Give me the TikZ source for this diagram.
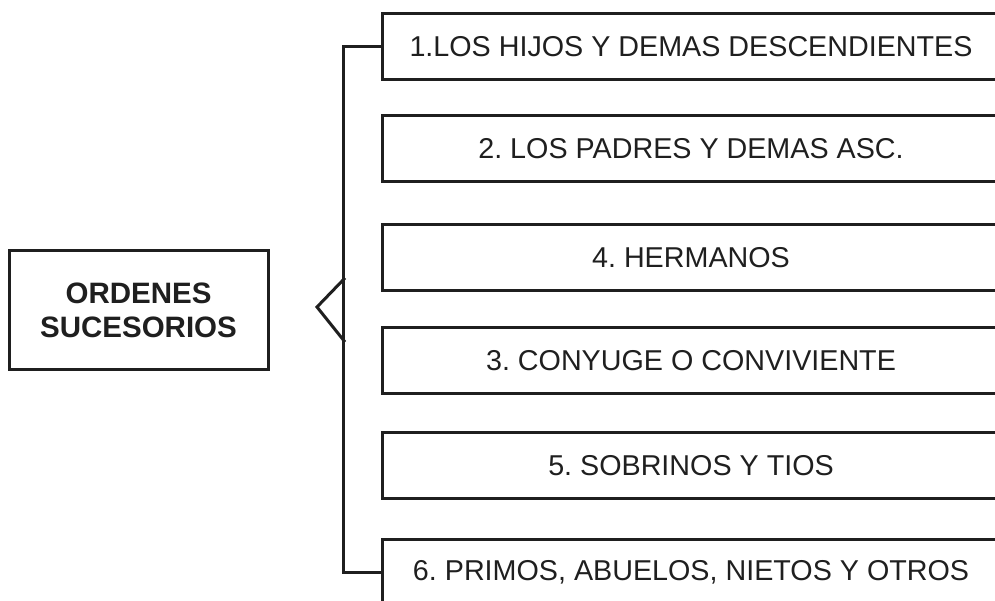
\documentclass[tikz,border=0pt]{standalone}
\usepackage{fontspec}
\setmainfont{Liberation Sans}
\frenchspacing
\tikzset{
  caja/.style={draw, line width=3pt, minimum width=618pt, minimum height=66pt, inner sep=0pt,
    font=\fontsize{28.7}{34}\selectfont},
  titulo/.style={draw, line width=3pt, minimum width=259pt, minimum height=118pt, align=center,
    font=\fontsize{29.5}{34}\selectfont\bfseries},
  llave/.style={line width=3pt}
}
\begin{document}
\begin{tikzpicture}[x=1pt,y=-1pt,color={black!88}]
		\useasboundingbox (0,0) rectangle (995,601);
		\clip (0,0) rectangle (995,601);
		\def\xc{691}
		\def\xb{345}
		\node[titulo] (ord) at (138.5,310) {ORDENES\\SUCESORIOS};
		\node[caja] (b1) at (\xc,47) {1.LOS HIJOS Y DEMAS DESCENDIENTES};
		\node[caja] (b2) at (\xc,149) {2. LOS PADRES Y DEMAS ASC.};
		\node[caja] (b3) at (\xc,257.5) {4. HERMANOS};
		\node[caja] (b4) at (\xc,360.5) {3. CONYUGE O CONVIVIENTE};
		\node[caja] (b5) at (\xc,465.5) {5. SOBRINOS Y TIOS};
		\node[caja] (b6) at (\xc,572) {6. PRIMOS, ABUELOS, NIETOS Y OTROS};
		\coordinate (pico) at (317,307);
		\coordinate (arr) at (\xb,278);
		\coordinate (aba) at (\xb,342);
		\draw[llave] (b1.west) -- ++(-37,0) |- (b6.west);
		\draw[llave] (arr) -- (pico) -- (aba);
	\end{tikzpicture}
\end{document}
